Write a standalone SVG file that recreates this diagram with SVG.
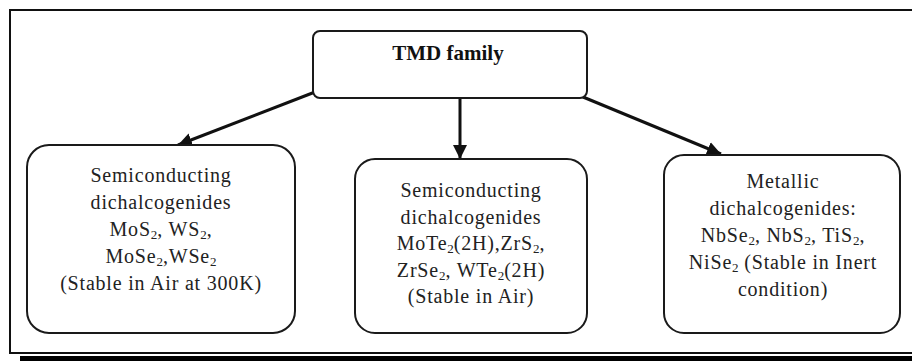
<svg xmlns="http://www.w3.org/2000/svg" width="912" height="361" viewBox="0 0 912 361">
  <style>
    .box { fill: #ffffff; stroke: #1a1a1a; stroke-width: 2; }
    .frame { fill: none; stroke: #111; stroke-width: 2; }
    .lbl { font-size: 20px; letter-spacing: 0.8px; fill: #222; text-anchor: middle; }
    .title { font-size: 21px; font-weight: bold; fill: #111; text-anchor: middle; }
    .sub { font-size: 13px; letter-spacing: 0; }
    .conn { stroke: #111; stroke-width: 3; fill: none; }
  </style>
  <defs>
    <marker id="arrow" markerUnits="userSpaceOnUse" markerWidth="16" markerHeight="14" refX="14" refY="7" orient="auto">
      <path d="M0,0 L14,7 L0,14 Z" fill="#111"/>
    </marker>
  </defs>
  <rect x="0" y="0" width="912" height="361" fill="#ffffff"/>
  <g id="frame">
    <path class="frame" d="M912,10 L10,10 L10,353 L912,353"/>
    <rect x="20" y="356" width="892" height="5" fill="#000"/>
  </g>
  <g id="connectors">
    <line class="conn" x1="315" y1="92" x2="178" y2="145" marker-end="url(#arrow)"/>
    <line class="conn" x1="460" y1="98" x2="460" y2="159" marker-end="url(#arrow)"/>
    <line class="conn" x1="583" y1="97" x2="721" y2="154" marker-end="url(#arrow)"/>
  </g>
  <g id="tmd-family" font-family="'Liberation Serif', 'DejaVu Serif', serif">
    <rect class="box" x="313" y="31" width="274" height="67" rx="7" ry="7"/>
    <text class="title" x="448" y="60">TMD family</text>
  </g>
  <g id="semiconducting-1" font-family="'Liberation Serif', 'DejaVu Serif', serif">
    <rect class="box" x="27" y="145" width="268" height="188" rx="22" ry="22"/>
    <text class="lbl" x="161" y="182">Semiconducting</text>
    <text class="lbl" x="161" y="209">dichalcogenides</text>
    <text class="lbl" x="161" y="236">MoS<tspan class="sub" dy="3">2</tspan><tspan dy="-3">, WS</tspan><tspan class="sub" dy="3">2</tspan><tspan dy="-3">,</tspan></text>
    <text class="lbl" x="161" y="263">MoSe<tspan class="sub" dy="3">2</tspan><tspan dy="-3">,WSe</tspan><tspan class="sub" dy="3">2</tspan></text>
    <text class="lbl" x="161" y="290">(Stable in Air at 300K)</text>
  </g>
  <g id="semiconducting-2" font-family="'Liberation Serif', 'DejaVu Serif', serif">
    <rect class="box" x="355" y="159" width="232" height="174" rx="20" ry="20"/>
    <text class="lbl" x="471" y="197">Semiconducting</text>
    <text class="lbl" x="471" y="224">dichalcogenides</text>
    <text class="lbl" x="471" y="250">MoTe<tspan class="sub" dy="3">2</tspan><tspan dy="-3">(2H),ZrS</tspan><tspan class="sub" dy="3">2</tspan><tspan dy="-3">,</tspan></text>
    <text class="lbl" x="471" y="277">ZrSe<tspan class="sub" dy="3">2</tspan><tspan dy="-3">, WTe</tspan><tspan class="sub" dy="3">2</tspan><tspan dy="-3">(2H)</tspan></text>
    <text class="lbl" x="471" y="303">(Stable in Air)</text>
  </g>
  <g id="metallic" font-family="'Liberation Serif', 'DejaVu Serif', serif">
    <rect class="box" x="664" y="155" width="236" height="178" rx="20" ry="20"/>
    <text class="lbl" x="783" y="188">Metallic</text>
    <text class="lbl" x="783" y="215">dichalcogenides:</text>
    <text class="lbl" x="783" y="242">NbSe<tspan class="sub" dy="3">2</tspan><tspan dy="-3">, NbS</tspan><tspan class="sub" dy="3">2</tspan><tspan dy="-3">, TiS</tspan><tspan class="sub" dy="3">2</tspan><tspan dy="-3">,</tspan></text>
    <text class="lbl" x="783" y="269">NiSe<tspan class="sub" dy="3">2</tspan><tspan dy="-3"> (Stable in Inert</tspan></text>
    <text class="lbl" x="783" y="296">condition)</text>
  </g>
</svg>
